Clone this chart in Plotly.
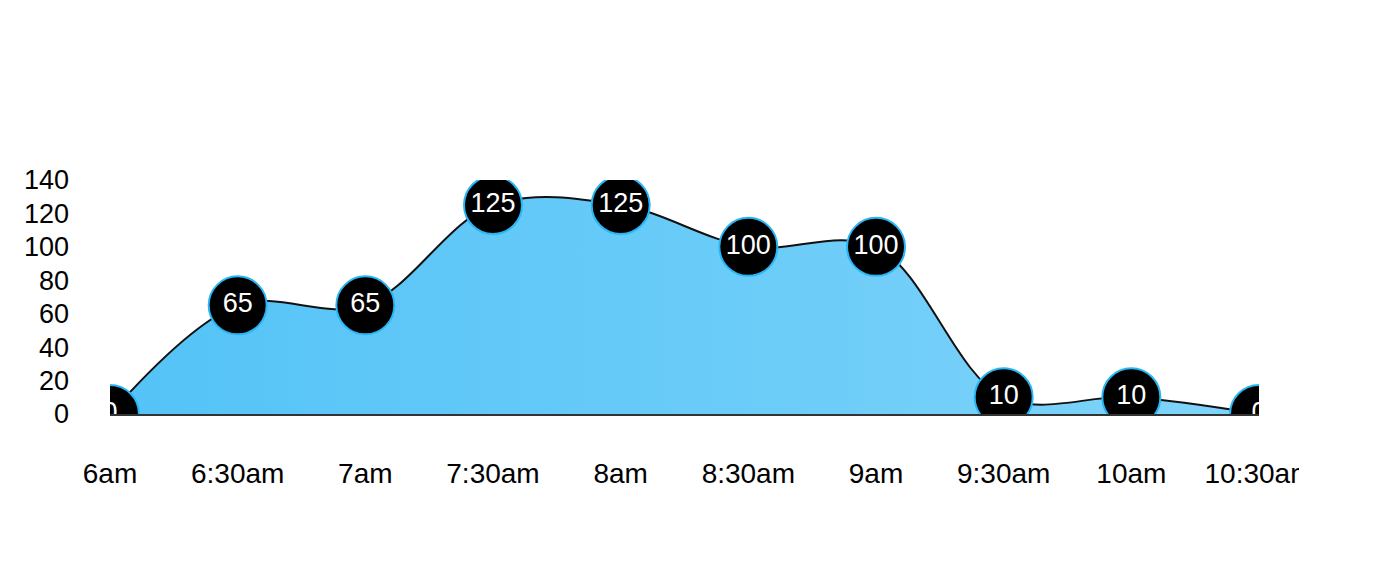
import plotly.graph_objects as go

times = ["6am", "6:30am", "7am", "7:30am", "8am", "8:30am", "9am", "9:30am", "10am", "10:30am"]
values = [0, 65, 65, 125, 125, 100, 100, 10, 10, 0]
y_ticks = [0, 20, 40, 60, 80, 100, 120, 140]

FONT = "Liberation Sans, Arial, Helvetica, sans-serif"

fig = go.Figure()
fig.add_trace(go.Scatter(
    x=list(range(len(times))),
    y=values,
    mode="lines+markers+text",
    line=dict(shape="spline", smoothing=1.0, color="#111111", width=2),
    fill="tozeroy",
    fillgradient=dict(type="horizontal",
                      colorscale=[[0, "#54c3f7"], [0.5, "#68cbf8"], [1, "#80d4fa"]]),
    marker=dict(size=58, color="black", line=dict(color="#29b6f6", width=2)),
    text=[str(v) for v in values],
    textposition="middle center",
    textfont=dict(color="white", size=27, family=FONT),
    cliponaxis=True,
    hoverinfo="skip",
))

fig.update_layout(
    width=1389, height=572,
    margin=dict(l=102, r=138, t=172, b=166),
    plot_bgcolor="white", paper_bgcolor="white",
    showlegend=False,
    font=dict(family=FONT, size=27, color="black"),
)
fig.update_xaxes(
    range=[0, len(times) - 1],
    tickmode="array", tickvals=list(range(len(times))), ticktext=times,
    showgrid=False, zeroline=False,
    showline=True, linecolor="#333333", linewidth=1.5,
    ticks="", ticklabelstandoff=34,
    tickfont=dict(size=28),
)
fig.update_yaxes(
    range=[0, 140],
    tickmode="array", tickvals=y_ticks,
    showgrid=False, zeroline=False, showline=False,
    ticks="", ticklabelstandoff=40,
    tickfont=dict(size=27),
)
# clip the last tick label at the right edge, as in the reference
fig.add_shape(type="rect", xref="paper", yref="paper",
              x0=(1299 - 110) / 1149, x1=1.12, y0=-0.45, y1=-0.1,
              fillcolor="white", line=dict(width=0), layer="above")

fig.write_html("out.html")
